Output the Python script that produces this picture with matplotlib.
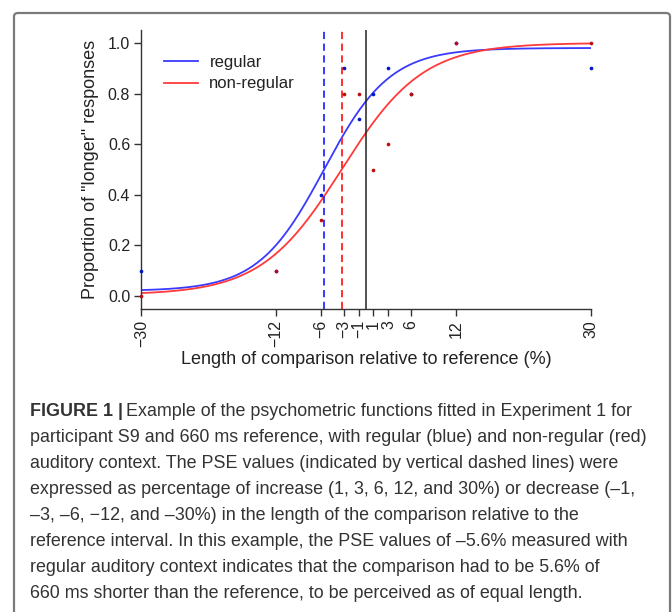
import numpy as np
import matplotlib
matplotlib.use("Agg")
import matplotlib.pyplot as plt
from matplotlib.patches import FancyBboxPatch

plt.rcParams['font.family'] = ['Liberation Sans', 'DejaVu Sans']

# comparison levels (% relative to reference)
levels = [-30, -12, -6, -3, -1, 1, 3, 6, 12, 30]
tick_labels = ["\u221230", "\u221212", "\u22126", "\u22123", "\u22121", "1", "3", "6", "12", "30"]

# observed proportions of "longer" responses
p_regular = [0.1, 0.1, 0.4, 0.9, 0.7, 0.8, 0.9, 0.8, 1.0, 0.9]
p_nonregular = [0.0, 0.1, 0.3, 0.8, 0.8, 0.5, 0.6, 0.8, 1.0, 1.0]

# fitted psychometric functions: pse, slope, guess, lapse
fit_regular = dict(pse=-5.6, scale=4.4, guess=0.02, lapse=0.02)
fit_nonregular = dict(pse=-3.2, scale=5.4, guess=0.005, lapse=0.0)

caption = [
    "participant S9 and 660 ms reference, with regular (blue) and non-regular (red)",
    "auditory context. The PSE values (indicated by vertical dashed lines) were",
    "expressed as percentage of increase (1, 3, 6, 12, and 30%) or decrease (\u20131,",
    "\u20133, \u20136, \u221212, and \u201330%) in the length of the comparison relative to the",
    "reference interval. In this example, the PSE values of \u20135.6% measured with",
    "regular auditory context indicates that the comparison had to be 5.6% of",
    "660 ms shorter than the reference, to be perceived as of equal length.",
]


def psy(x, pse, scale, guess, lapse):
    return guess + (1 - guess - lapse) / (1 + np.exp(-(x - pse) / scale))


W, H = 672, 612
fig = plt.figure(figsize=(W / 100, H / 100), dpi=100)

# panel border
box = FancyBboxPatch((14 / W, -0.05), (670 - 14) / W, 1 - 13 / H + 0.05,
                     boxstyle="round,pad=0,rounding_size=0.006",
                     transform=fig.transFigure, fill=False,
                     edgecolor="#7a7a7a", linewidth=1.6)
fig.patches.append(box)

ax = fig.add_axes([141.3 / W, 1 - 309 / H, (590.7 - 141.3) / W, (309 - 30) / H])
txt = "#222222"

xs = np.linspace(-30, 30, 400)
ax.plot(xs, psy(xs, **fit_regular), color="#3a3aff", lw=1.3, label="regular")
ax.plot(xs, psy(xs, **fit_nonregular), color="#ff3a3a", lw=1.3, label="non-regular")

ax.scatter(levels, p_regular, s=7, color="#0018c8", zorder=3, clip_on=False, linewidths=0)
ax.scatter(levels, p_nonregular, s=7, color="#b81010", zorder=3, clip_on=False, linewidths=0)

ax.axvline(fit_regular["pse"], color="#2a2aff", lw=1.3, ls=(0, (4, 2.5)))
ax.axvline(fit_nonregular["pse"], color="#ff2020", lw=1.3, ls=(0, (4, 2.5)))
ax.axvline(0, color="#222222", lw=1.1)

ax.set_xlim(-30, 30)
ax.set_ylim(-0.051, 1.051)
ax.set_xticks(levels)
ax.set_xticklabels(tick_labels, rotation=90)
ax.set_yticks([0.0, 0.2, 0.4, 0.6, 0.8, 1.0])
ax.set_yticklabels(["0.0", "0.2", "0.4", "0.6", "0.8", "1.0"])
for s in ["top", "right"]:
    ax.spines[s].set_visible(False)
for s in ["left", "bottom"]:
    ax.spines[s].set_color("#333333")
    ax.spines[s].set_linewidth(1.0)
ax.tick_params(direction="out", length=5, width=1.0, color="#333333",
               labelsize=11.5, labelcolor=txt, pad=3)

ax.set_xlabel("Length of comparison relative to reference (%)", fontsize=13, color=txt, labelpad=3)
ax.set_ylabel("Proportion of \"longer\" responses", fontsize=13, color=txt, labelpad=6)

ax.legend(loc="upper left", bbox_to_anchor=(0.018, 0.965), frameon=False, fontsize=12,
          handlelength=2.0, handletextpad=0.7, labelspacing=0.4, labelcolor=txt)

# caption
x0 = 30 / W
y_first = 411
step = 26
cap_size = 12.9
cap_color = "#333333"
bold = fig.text(x0, 1 - y_first / H, "FIGURE 1 |", fontsize=cap_size, fontweight="bold",
                color=cap_color, va="center", ha="left")
r = fig.canvas.get_renderer()
bb = bold.get_window_extent(renderer=r)
fig.text(bb.x1 / W + 3 / W, 1 - y_first / H,
         "Example of the psychometric functions fitted in Experiment 1 for",
         fontsize=cap_size, color=cap_color, va="center", ha="left")
for i, line in enumerate(caption):
    fig.text(x0, 1 - (y_first + step * (i + 1)) / H, line, fontsize=cap_size,
             color=cap_color, va="center", ha="left")

fig.savefig("out.png", dpi=100)
